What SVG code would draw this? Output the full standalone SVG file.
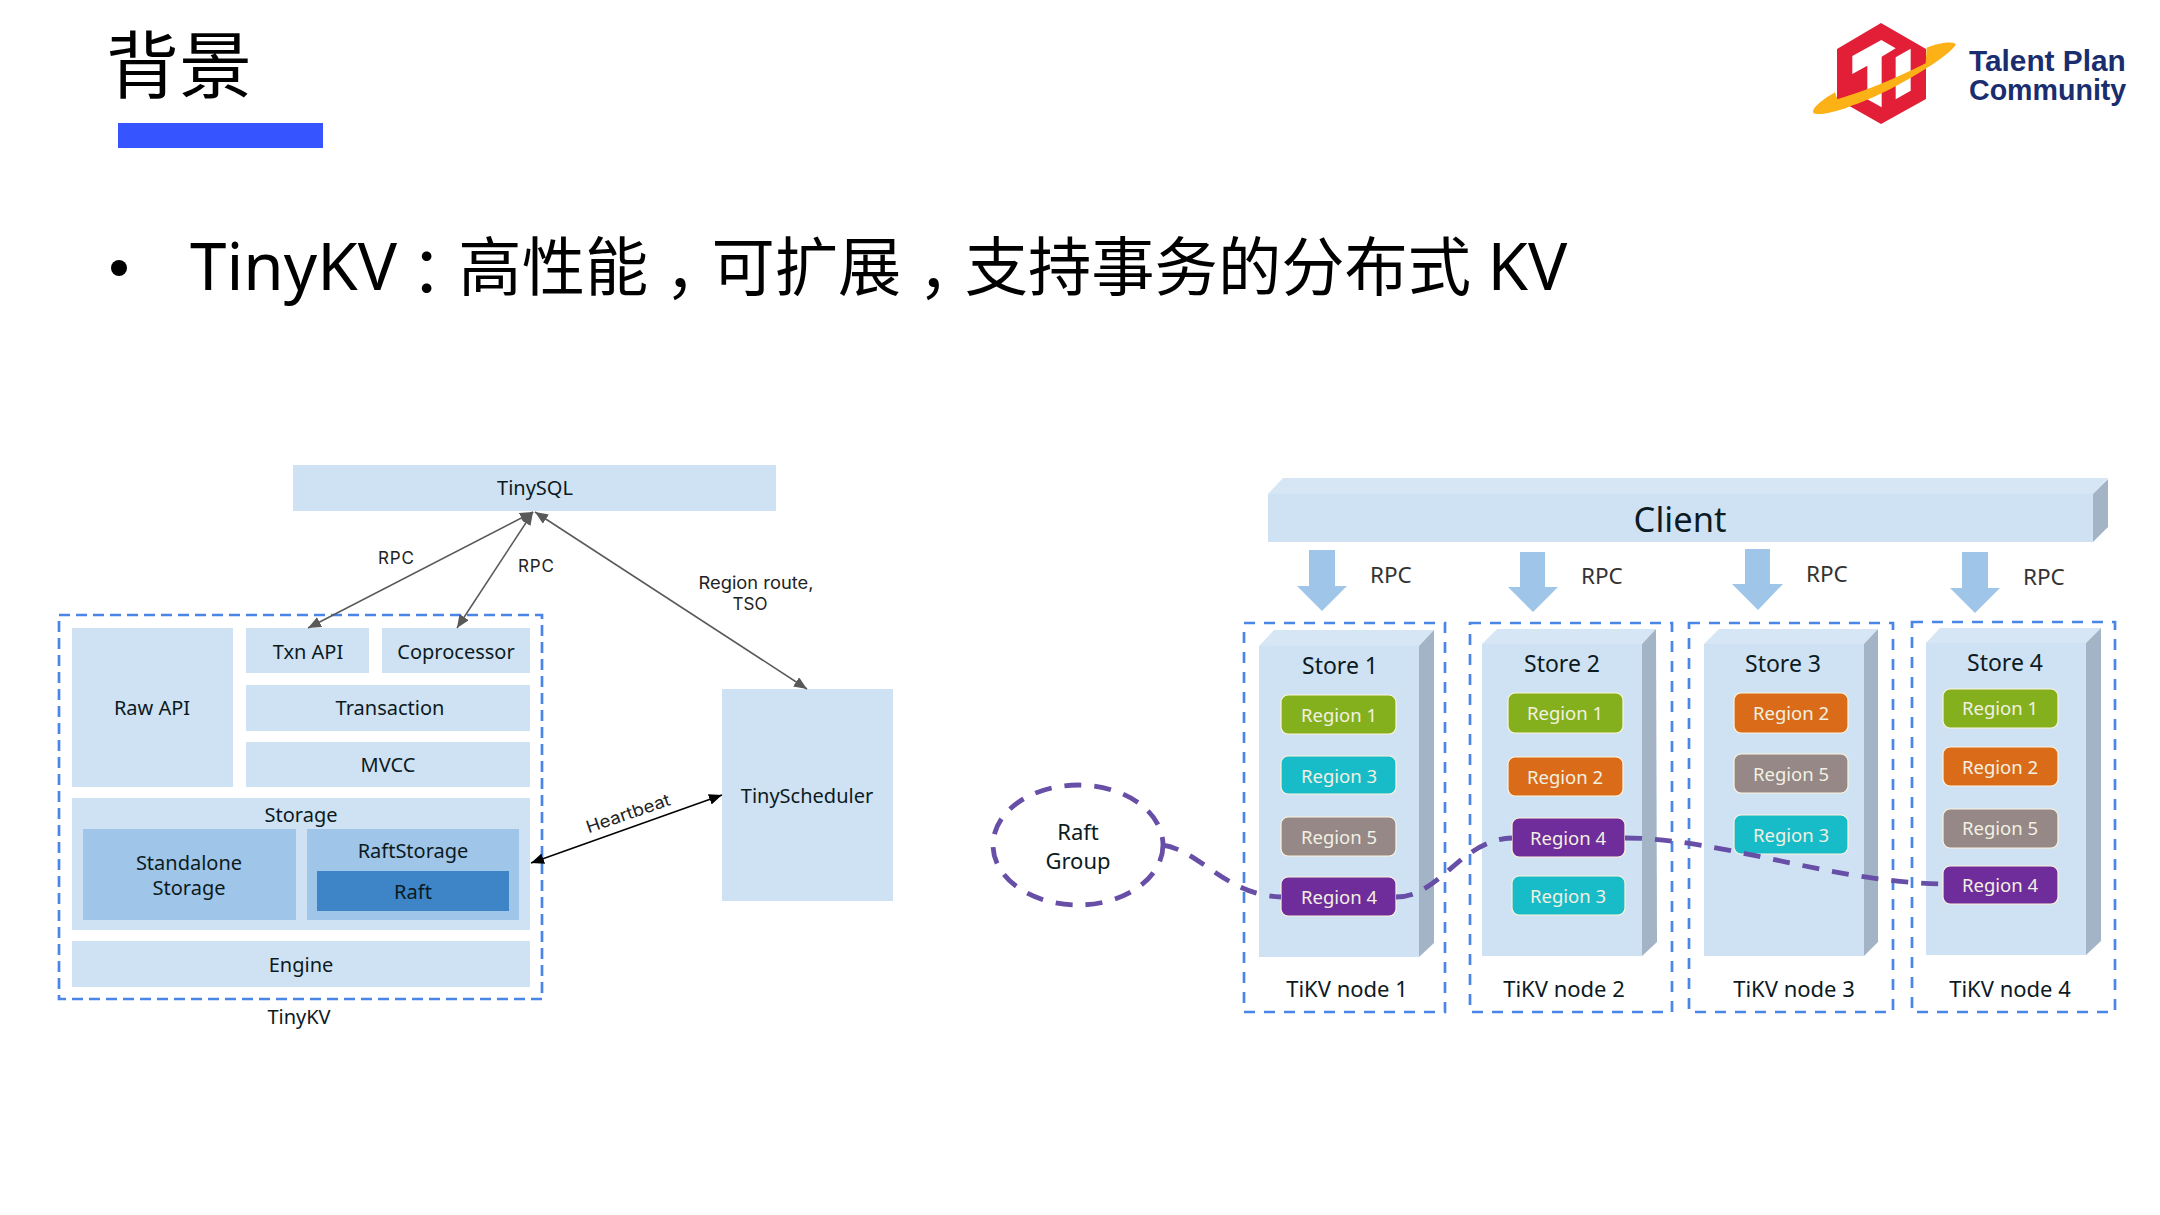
<svg xmlns="http://www.w3.org/2000/svg" width="2160" height="1215" viewBox="0 0 2160 1215">
<defs>
<style>
text{font-family:"Noto Sans","Noto Sans CJK SC",sans-serif;fill:#0c1a22}
.m{text-anchor:middle}
.b{fill:#cfe2f3}
.b2{fill:#9fc5e8}
.t{font-size:20px}
.s{font-family:Inter,"Noto Sans",sans-serif;font-size:17px;fill:#222}
.top{fill:#d6e6f5}
.side{fill:#a2b4c5}
.d{fill:none;stroke:#4a86e8;stroke-width:2.7;stroke-dasharray:11 9}
.dl{fill:none;stroke:#4a86e8;stroke-width:2.7;stroke-dasharray:11 6}
.store{font-size:23px;text-anchor:middle}
.node{font-size:22px;text-anchor:middle}
.rpc{font-size:22.5px;fill:#333}
.rg{stroke:#fdf3dc;stroke-width:1.2}
.rt{font-size:18.5px;fill:#f2f0e2;text-anchor:middle}
.g{fill:#84b01e}.c{fill:#18bcc8}.o{fill:#da6c19}.h{fill:#958886}.p{fill:#6f2c9b}
.l{fill:none;stroke:#595959;stroke-width:1.5}
.lk{fill:none;stroke:#000;stroke-width:1.5}
.raft{fill:none;stroke:#674ea7;stroke-width:4.8;stroke-dasharray:17 13}
.lat{font-size:65.5px;fill:#000}
.tc{font-family:"Noto Sans CJK TC",sans-serif;fill:#000}
</style>
<marker id="ag" markerUnits="userSpaceOnUse" markerWidth="14" markerHeight="12" refX="13" refY="5.5" orient="auto-start-reverse"><path d="M0,0L13,5.5L0,11Z" fill="#595959"/></marker>
<marker id="ak" markerUnits="userSpaceOnUse" markerWidth="14" markerHeight="12" refX="13" refY="5.5" orient="auto-start-reverse"><path d="M0,0L13,5.5L0,11Z" fill="#000"/></marker>
</defs>
<rect width="2160" height="1215" fill="#fff"/>

<g id="heading">
<text x="106" y="92" font-size="73" style="font-family:'Noto Sans CJK SC',sans-serif;fill:#000">背景</text>
<rect x="118" y="123" width="205" height="25" fill="#3654ff"/>
<circle cx="119" cy="268" r="8" fill="#000"/>
<text x="190" y="290" font-size="63.3" style="font-family:'Noto Sans','Noto Sans CJK SC',sans-serif;fill:#000"><tspan class="lat">TinyKV</tspan><tspan class="tc" dx="-2" dy="6">：</tspan><tspan dy="-6">高性能</tspan><tspan class="tc" dy="22">，</tspan><tspan dy="-22">可扩展</tspan><tspan class="tc" dy="22">，</tspan><tspan dy="-22">支持事务的分布式 </tspan><tspan class="lat">KV</tspan></text>
</g>

<g id="logo">
<polygon points="1881,23 1926,49 1926,99 1881,124 1837,99 1837,49" fill="#e21f36"/>
<g transform="translate(1780,0) scale(.33333)">
<polygon points="217,168 304,120 347,145 305,170 305,322 262,298 262,197 217,222" fill="#fff"/>
<polygon points="347,172 392,146 392,272 347,298" fill="#fff"/>
<path d="M165,277C125,300 95,325 100,338C110,350 170,335 207,320C330,280 500,175 527,135C527,122 480,128 440,143L437,190C350,235 250,275 172,298Z" fill="#fcb216"/>
</g>
<text x="1969" y="71" font-size="29.8" font-weight="700" style="font-family:'Liberation Sans',sans-serif;fill:#1a2d6f">Talent Plan</text>
<text x="1969" y="100" font-size="28.6" font-weight="700" style="font-family:'Liberation Sans',sans-serif;fill:#1a2d6f">Community</text>
</g>

<g id="tinykv-frame"><rect class="dl" x="59" y="615" width="483" height="384"/><text class="t m" x="299" y="1024">TinyKV</text></g>
<g id="tinysql"><rect class="b" x="293" y="465" width="483" height="46"/><text class="t m" x="535" y="495">TinySQL</text></g>
<g id="raw-api"><rect class="b" x="72" y="628" width="161" height="159"/><text class="t m" x="152" y="715">Raw API</text></g>
<g id="txn-api"><rect class="b" x="246" y="628" width="123" height="45"/><text class="t m" x="308" y="659">Txn API</text></g>
<g id="coprocessor"><rect class="b" x="382" y="628" width="148" height="45"/><text class="t m" x="456" y="659">Coprocessor</text></g>
<g id="transaction"><rect class="b" x="246" y="685" width="284" height="46"/><text class="t m" x="390" y="715">Transaction</text></g>
<g id="mvcc"><rect class="b" x="246" y="742" width="284" height="45"/><text class="t m" x="388" y="772">MVCC</text></g>
<g id="storage"><rect class="b" x="72" y="798" width="458" height="132"/><text class="t m" x="301" y="822">Storage</text></g>
<g id="standalone"><rect class="b2" x="83" y="829" width="213" height="91"/><text class="t m" x="189" y="870">Standalone</text><text class="t m" x="189" y="895">Storage</text></g>
<g id="raftstorage"><rect class="b2" x="307" y="829" width="212" height="91"/><text class="t m" x="413" y="858">RaftStorage</text></g>
<g id="raft-layer"><rect x="317" y="871" width="192" height="40" fill="#3d85c6"/><text class="t m" x="413" y="899">Raft</text></g>
<g id="engine"><rect class="b" x="72" y="941" width="458" height="46"/><text class="t m" x="301" y="972">Engine</text></g>
<g id="tinyscheduler"><rect class="b" x="722" y="689" width="171" height="212"/><text class="t m" x="807" y="803">TinyScheduler</text></g>

<g id="connectors-left">
<line class="l" x1="308" y1="628" x2="533" y2="512" marker-start="url(#ag)" marker-end="url(#ag)"/>
<line class="l" x1="457" y1="628" x2="533" y2="512" marker-start="url(#ag)" marker-end="url(#ag)"/>
<line class="l" x1="535" y1="512" x2="807" y2="689" marker-start="url(#ag)" marker-end="url(#ag)"/>
<line class="lk" x1="531" y1="863" x2="722" y2="795" marker-start="url(#ak)" marker-end="url(#ak)"/>
<text class="s m" x="396" y="564" textLength="36">RPC</text>
<text class="s m" x="536" y="572" textLength="36">RPC</text>
<text class="s m" x="756" y="589" textLength="115" lengthAdjust="spacingAndGlyphs">Region route,</text>
<text class="s m" x="750" y="610">TSO</text>
<text class="s m" transform="translate(630,819) rotate(-19)" textLength="88" lengthAdjust="spacingAndGlyphs">Heartbeat</text>
</g>

<g id="client">
<polygon class="top" points="1268,494 1283,478 2108,478 2093,494"/>
<polygon class="side" points="2093,494 2108,479 2108,527 2093,542"/>
<rect class="b" x="1268" y="494" width="825" height="48"/>
<text x="1680" y="532" font-size="34.5" class="m">Client</text>
</g>

<g id="rpc-arrows">
<polygon class="b2" points="1309,550 1335,550 1335,586 1347,586 1322,611 1297,586 1309,586"/>
<polygon class="b2" points="1520,552 1545,552 1545,587 1558,587 1533,612 1508,587 1520,587"/>
<polygon class="b2" points="1745,549 1770,549 1770,584 1783,584 1758,610 1732,584 1745,584"/>
<polygon class="b2" points="1962,552 1988,552 1988,588 2000,588 1975,613 1950,588 1962,588"/>
<text class="rpc" x="1370" y="583">RPC</text>
<text class="rpc" x="1581" y="584">RPC</text>
<text class="rpc" x="1806" y="582">RPC</text>
<text class="rpc" x="2023" y="585">RPC</text>
</g>

<g id="store-1">
<rect class="d" x="1244" y="623" width="201" height="389"/>
<polygon class="top" points="1259,646 1274,630 1434,630 1419,646"/>
<polygon class="side" points="1419,646 1434,630 1434,943 1419,957"/>
<rect class="b" x="1259" y="646" width="160" height="311"/>
<text class="store" x="1340" y="674">Store 1</text>
<rect class="g rg" x="1281" y="695" width="115" height="39" rx="7"/><text class="rt" x="1339" y="722">Region 1</text>
<rect class="c rg" x="1281" y="756" width="115" height="38" rx="7"/><text class="rt" x="1339" y="783">Region 3</text>
<rect class="h rg" x="1281" y="817" width="115" height="39" rx="7"/><text class="rt" x="1339" y="844">Region 5</text>
<rect class="p rg" x="1281" y="877" width="115" height="39" rx="7"/><text class="rt" x="1339" y="904">Region 4</text>
<text class="node" x="1347" y="997">TiKV node 1</text>
</g>
<g id="store-2">
<rect class="d" x="1470" y="623" width="202" height="389"/>
<polygon class="top" points="1482,644 1497,629 1656,629 1642,644"/>
<polygon class="side" points="1642,644 1656,629 1657,942 1642,956"/>
<rect class="b" x="1482" y="644" width="160" height="312"/>
<text class="store" x="1562" y="672">Store 2</text>
<rect class="g rg" x="1508" y="693" width="115" height="40" rx="7"/><text class="rt" x="1565" y="720">Region 1</text>
<rect class="o rg" x="1508" y="757" width="115" height="39" rx="7"/><text class="rt" x="1565" y="784">Region 2</text>
<rect class="p rg" x="1512" y="818" width="113" height="39" rx="7"/><text class="rt" x="1568" y="845">Region 4</text>
<rect class="c rg" x="1512" y="876" width="113" height="39" rx="7"/><text class="rt" x="1568" y="903">Region 3</text>
<text class="node" x="1564" y="997">TiKV node 2</text>
</g>
<g id="store-3">
<rect class="d" x="1689" y="623" width="204" height="389"/>
<polygon class="top" points="1704,644 1719,629 1878,629 1864,644"/>
<polygon class="side" points="1864,644 1878,629 1878,942 1864,956"/>
<rect class="b" x="1704" y="644" width="160" height="312"/>
<text class="store" x="1783" y="672">Store 3</text>
<rect class="o rg" x="1734" y="693" width="114" height="40" rx="7"/><text class="rt" x="1791" y="720">Region 2</text>
<rect class="h rg" x="1734" y="754" width="114" height="39" rx="7"/><text class="rt" x="1791" y="781">Region 5</text>
<rect class="c rg" x="1734" y="815" width="114" height="39" rx="7"/><text class="rt" x="1791" y="842">Region 3</text>
<text class="node" x="1794" y="997">TiKV node 3</text>
</g>
<g id="store-4">
<rect class="d" x="1912" y="622" width="203" height="390"/>
<polygon class="top" points="1926,643 1940,628 2101,628 2086,643"/>
<polygon class="side" points="2086,643 2101,628 2101,941 2086,955"/>
<rect class="b" x="1926" y="643" width="160" height="312"/>
<text class="store" x="2005" y="671">Store 4</text>
<rect class="g rg" x="1943" y="689" width="115" height="39" rx="7"/><text class="rt" x="2000" y="715">Region 1</text>
<rect class="o rg" x="1943" y="747" width="115" height="39" rx="7"/><text class="rt" x="2000" y="774">Region 2</text>
<rect class="h rg" x="1943" y="809" width="115" height="39" rx="7"/><text class="rt" x="2000" y="835">Region 5</text>
<rect class="p rg" x="1943" y="866" width="115" height="38" rx="7"/><text class="rt" x="2000" y="892">Region 4</text>
<text class="node" x="2010" y="997">TiKV node 4</text>
</g>

<g id="raft-group">
<ellipse class="raft" cx="1078" cy="845" rx="85" ry="60"/>
<text class="node" x="1078" y="840">Raft</text>
<text class="node" x="1078" y="869">Group</text>
</g>

<g id="connectors-raft">
<path class="raft" d="M1162,845C1200,850 1225,895 1281,897"/>
<path class="raft" d="M1396,897C1440,897 1460,840 1512,838"/>
<path class="raft" d="M1625,838C1720,838 1830,882 1943,884"/>
</g>
</svg>
